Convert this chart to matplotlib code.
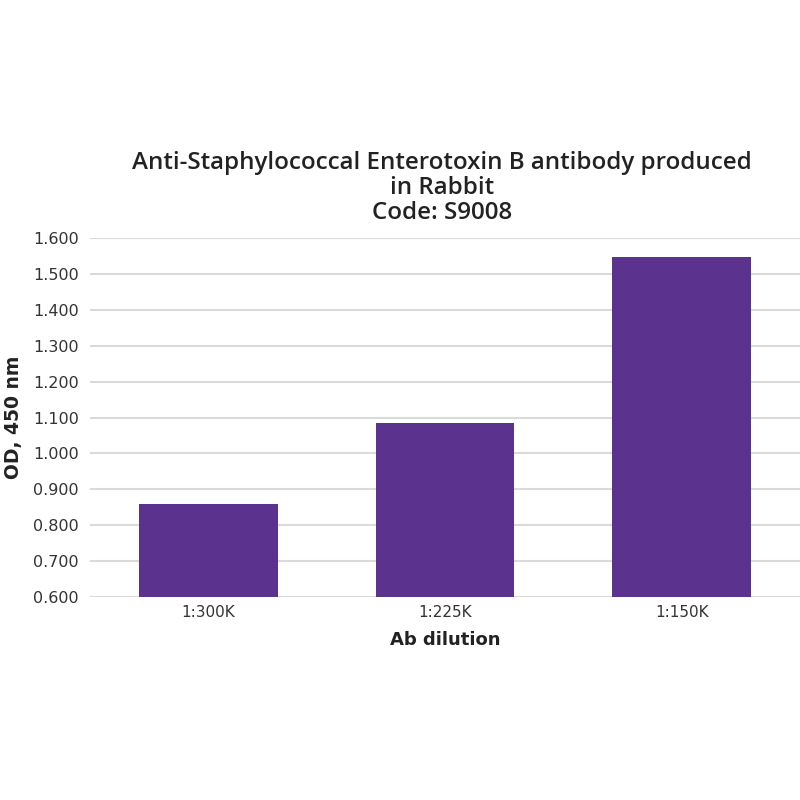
import matplotlib
matplotlib.use("Agg")
import matplotlib.pyplot as plt

plt.rcParams["font.family"] = ["DejaVu Sans"]

categories = ["1:300K", "1:225K", "1:150K"]
values = [0.860, 1.084, 1.549]
yticks = [0.6, 0.7, 0.8, 0.9, 1.0, 1.1, 1.2, 1.3, 1.4, 1.5, 1.6]

title = "Anti-Staphylococcal Enterotoxin B antibody produced\nin Rabbit\nCode: S9008"

fig = plt.figure(figsize=(8, 8), dpi=100)
ax = fig.add_axes([0.1125, 0.254, 0.8875, 0.448])

x = range(len(categories))
ax.bar(x, values, width=0.585, color="#5B338F", zorder=3)
ax.set_xlim(-0.5, 2.5)
ax.set_ylim(0.6, 1.6)
ax.set_yticks(yticks)
ax.set_yticklabels([f"{v:.3f}" for v in yticks], fontsize=11.5, color="#333333")
ax.set_xticks(list(x))
ax.set_xticklabels(categories, fontsize=11, color="#333333")
ax.tick_params(axis="both", length=0, pad=6)
ax.tick_params(axis="y", pad=8)
for s in ax.spines.values():
    s.set_visible(False)
ax.grid(axis="y", color="#DADADA", linewidth=1.5, zorder=0)
ax.set_axisbelow(True)

ax.set_xlabel("Ab dilution", fontsize=13, fontweight="bold", color="#222222", labelpad=8)
ax.set_ylabel("OD, 450 nm", fontsize=13.5, fontweight="bold", color="#222222", labelpad=7)

fig.text(0.552, 1 - 219 / 800, title, ha="center", va="baseline", fontsize=17.4, fontweight="semibold",
         family="Open Sans", color="#222222", linespacing=1.05)

fig.savefig("out.png", dpi=100, facecolor="white")
